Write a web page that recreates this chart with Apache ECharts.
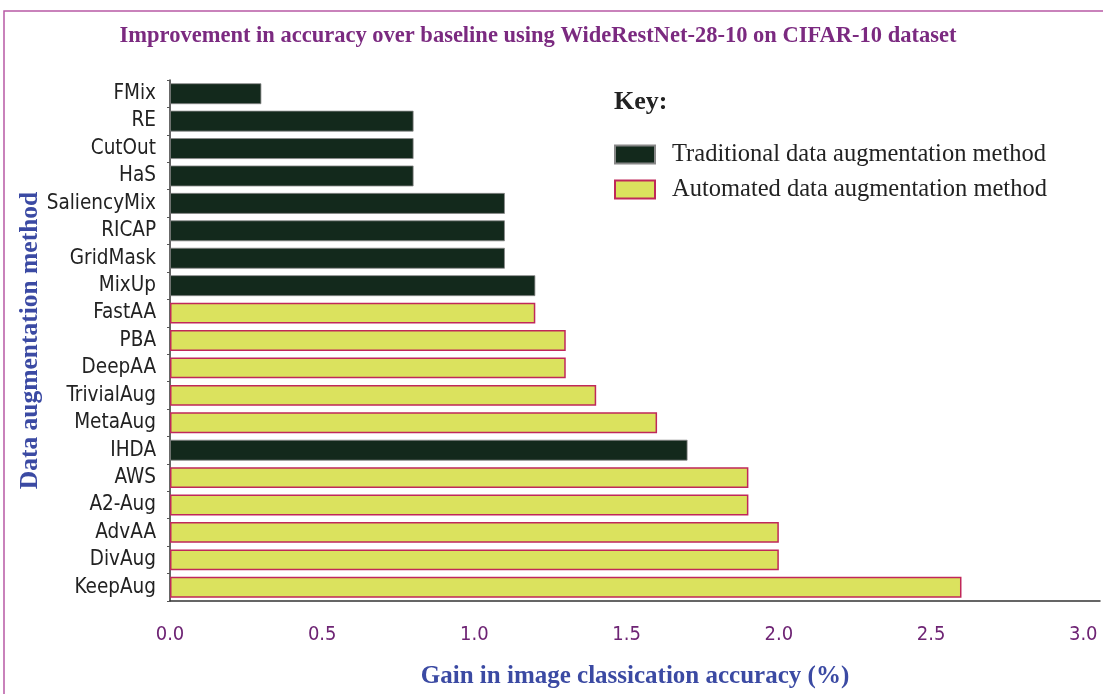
<!DOCTYPE html>
<html>
<head>
<meta charset="utf-8">
<script src="https://cdn.jsdelivr.net/npm/echarts@6/dist/echarts.min.js"></script>
<style>html,body{margin:0;padding:0;background:#fff;}#c{width:1103px;height:694px;}</style>
</head>
<body>
<div id="c"></div>
<script>
var categories = ['FMix','RE','CutOut','HaS','SaliencyMix','RICAP','GridMask','MixUp','FastAA','PBA','DeepAA','TrivialAug','MetaAug','IHDA','AWS','A2-Aug','AdvAA','DivAug','KeepAug'];
var gains = [0.3,0.8,0.8,0.8,1.1,1.1,1.1,1.2,1.2,1.3,1.3,1.4,1.6,1.7,1.9,1.9,2.0,2.0,2.6];
var types = ['T','T','T','T','T','T','T','T','A','A','A','A','A','T','A','A','A','A','A'];
var xTicks = [0,0.5,1.0,1.5,2.0,2.5,3.0];

var tradData = gains.map(function(v,i){ return types[i]==='T' ? v : '-'; });
var autoData = gains.map(function(v,i){ return types[i]==='A' ? v : '-'; });

var serif = "'Liberation Serif','DejaVu Serif',serif";
var narrow = "'Liberation Sans Narrow','DejaVu Sans Condensed','Liberation Sans',sans-serif";

var chart = echarts.init(document.getElementById('c'));
chart.setOption({
  animation:false,
  backgroundColor:'#fff',
  title:{
    text:'Improvement in accuracy over baseline using WideRestNet-28-10 on CIFAR-10 dataset',
    left:533, top:20, textAlign:'center',
    textStyle:{fontFamily:serif,fontWeight:'bold',fontSize:22.5,color:'#7b2a80'}
  },
  graphic:[
    {type:'rect',shape:{x:4,y:11,width:1120,height:720},style:{fill:'none',stroke:'#b85aa5',lineWidth:1.5},silent:true},
    {type:'text',left:614,top:89,style:{text:'Key:',fontFamily:serif,fontWeight:'bold',fontSize:26,fill:'#222'}}
  ],
  legend:{
    orient:'vertical', left:609, top:137, itemWidth:40, itemHeight:18, itemGap:10,
    textStyle:{fontFamily:serif,fontSize:24.5,color:'#222',padding:[0,0,0,12]},
    data:[{name:'Traditional data augmentation method',icon:'rect'},{name:'Automated data augmentation method',icon:'rect'}]
  },
  grid:{left:170,right:3,top:80,bottom:93,containLabel:false},
  xAxis:{
    type:'value', min:0, max:3.055, interval:0.5,
    name:'Gain in image classication accuracy (%)', nameLocation:'middle', nameGap:63,
    nameTextStyle:{fontFamily:serif,fontWeight:'bold',fontSize:25,color:'#3b4aa3'},
    axisLine:{show:true,lineStyle:{color:'#333',width:1.5}},
    axisTick:{show:false},
    splitLine:{show:false},
    axisLabel:{margin:24,fontFamily:narrow,fontSize:20,color:'#6e2474',
      formatter:function(v){ return xTicks.indexOf(v)>=0 ? v.toFixed(1) : ''; }}
  },
  yAxis:{
    type:'category', data:categories, inverse:true,
    name:'Data augmentation method', nameLocation:'middle', nameGap:127, nameMoveOverlap:false,
    nameTextStyle:{fontFamily:serif,fontWeight:'bold',fontSize:25.5,color:'#3b4aa3'},
    axisLine:{show:true,lineStyle:{color:'#333',width:1.5}},
    axisTick:{show:true,length:3,lineStyle:{color:'#555'}},
    axisLabel:{margin:14,fontFamily:narrow,fontSize:20.5,color:'#222'}
  },
  series:[
    {name:'Traditional data augmentation method',type:'bar',stack:'s',data:tradData,barCategoryGap:'24%',
      itemStyle:{color:'#13291c',borderColor:'#888',borderWidth:0.8}},
    {name:'Automated data augmentation method',type:'bar',stack:'s',data:autoData,barCategoryGap:'24%',
      itemStyle:{color:'#dbe25e',borderColor:'#c0285a',borderWidth:1.5}}
  ]
});
</script>
</body>
</html>
